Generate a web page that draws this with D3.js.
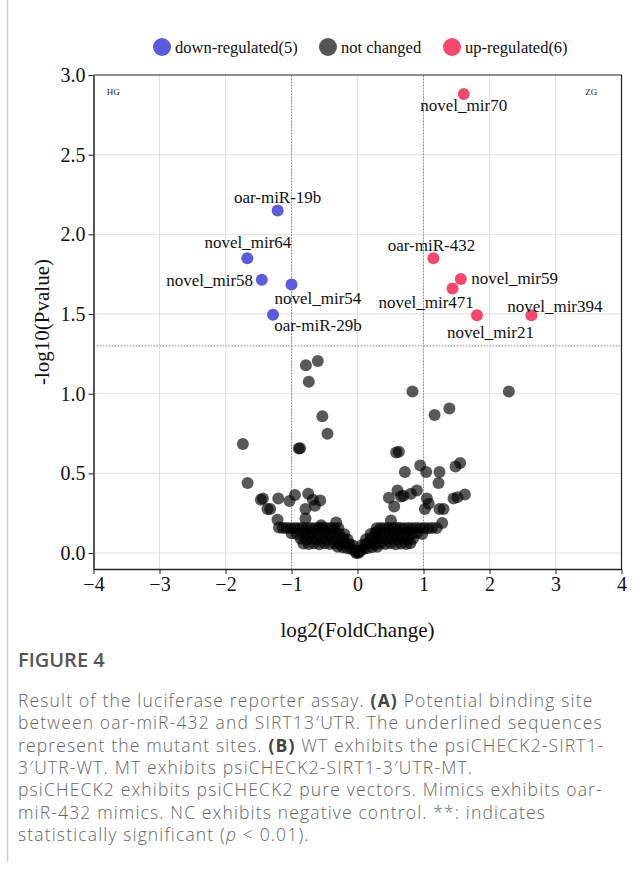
<!DOCTYPE html>
<meta charset="utf-8">
<style>
body { margin: 0; background: #fff; }
svg { display: block; }
.grid line { stroke: #e2e2e2; stroke-width: 1; }
.thresh { stroke: #8a8a8a; stroke-width: 1; stroke-dasharray: 1.5,1.5; fill: none; }
.axis text { font-family: "Liberation Serif", "Times New Roman", serif; font-size: 20px; fill: #111; }
.axis path, .axis line { stroke: #222; }
.ptlabel { font-family: "Liberation Serif", serif; font-size: 17px; fill: #111; }
.legend text { font-family: "Liberation Serif", serif; font-size: 16.5px; fill: #111; }
.caption { font-family: "Open Sans", "Noto Sans", sans-serif; font-size: 17.5px; font-weight: 300; letter-spacing: 1.15px; fill: #666; }
</style>
<body>
<svg width="642" height="875"></svg>
<script src="https://d3js.org/d3.v7.min.js"></script>
<script>

// significant miRNAs
var downNames = ["oar-miR-19b", "novel_mir64", "novel_mir58", "novel_mir54", "oar-miR-29b"];
var downFC    = [-1.21, -1.67, -1.45, -1.0, -1.28];
var downP     = [2.15, 1.85, 1.715, 1.685, 1.495];
var downLabelX = [-1.21, -1.66, -2.24, -0.6, -0.6];
var downLabelY = [2.235, 1.95, 1.715, 1.6, 1.43];

var upNames = ["novel_mir70", "oar-miR-432", "novel_mir59", "novel_mir471", "novel_mir21", "novel_mir394"];
var upFC    = [1.61, 1.15, 1.565, 1.44, 1.81, 2.635];
var upP     = [2.88, 1.85, 1.72, 1.66, 1.493, 1.493];
var upLabelX = [1.61, 1.12, 2.38, 1.04, 2.015, 2.99];
var upLabelY = [2.81, 1.93, 1.725, 1.578, 1.39, 1.551];

// not changed: [log2FC, -log10 p]
var notChanged = [
  [-1.737,0.684],[-0.782,1.179],[-0.601,1.206],[-0.738,1.075],[-0.533,0.859],[-0.455,0.748],
  [-0.89,0.656],[-0.87,0.658],[-1.666,0.439],
  [0.833,1.014],[2.293,1.014],[1.168,0.866],[1.392,0.907],
  [0.586,0.631],[0.627,0.636],[0.95,0.55],[0.718,0.508],[1.041,0.508],[1.242,0.508],[1.227,0.439],
  [1.485,0.543],[1.556,0.565],[0.606,0.393],[0.9,0.393],[0.476,0.347],[0.658,0.355],[0.697,0.36],
  [0.809,0.372],[0.556,0.292],[1.051,0.343],[1.021,0.276],[1.242,0.276],[1.303,0.276],[1.455,0.343],
  [1.515,0.351],[1.627,0.368],[1.283,0.188],[0.506,0.205],[1.08,0.31],
  [-1.464,0.334],[-1.434,0.342],[-1.2,0.342],[-1.03,0.326],[-0.948,0.364],[-0.747,0.372],
  [-0.565,0.33],[-0.645,0.297],[-0.676,0.334],[-1.364,0.276],[-1.323,0.276],[-0.788,0.276],
  [-1.212,0.209],[-0.788,0.217],[-0.323,0.192],[-0.55,0.175],[0.29,0.134],
  [-1.19,0.160],[-1.13,0.157],[-1.07,0.158],[-1.01,0.155],[-0.95,0.158],[-0.89,0.156],[-0.83,0.159],
  [-0.77,0.156],[-0.71,0.158],[-0.65,0.155],[-0.59,0.157],[-0.53,0.159],[-0.47,0.156],[-0.41,0.158],
  [-0.35,0.155],[-0.29,0.157],
  [0.29,0.156],[0.35,0.158],[0.41,0.155],[0.47,0.158],[0.53,0.156],[0.59,0.159],[0.65,0.157],
  [0.71,0.155],[0.77,0.158],[0.83,0.156],[0.89,0.158],[0.95,0.156],[1.01,0.158],[1.07,0.155],
  [1.13,0.158],[1.2,0.157],
  [-1.0,0.125],[-0.92,0.12],[-0.84,0.128],[-0.76,0.118],[-0.68,0.126],[-0.6,0.12],[-0.52,0.127],
  [-0.44,0.119],[-0.36,0.125],[-0.28,0.121],[-0.2,0.118],
  [0.2,0.119],[0.27,0.126],[0.34,0.12],[0.42,0.127],[0.5,0.119],[0.58,0.125],[0.66,0.12],
  [0.74,0.127],[0.82,0.121],[0.9,0.126],[0.98,0.12],
  [-0.86,0.09],[-0.78,0.085],[-0.7,0.093],[-0.62,0.087],[-0.54,0.092],[-0.46,0.086],[-0.38,0.091],
  [-0.3,0.087],[-0.22,0.092],[-0.15,0.085],
  [0.13,0.086],[0.2,0.092],[0.28,0.087],[0.36,0.093],[0.44,0.086],[0.52,0.091],[0.6,0.087],
  [0.68,0.092],[0.76,0.086],[0.84,0.09],
  [-0.82,0.06],[-0.74,0.057],[-0.66,0.062],[-0.58,0.056],[-0.5,0.061],[-0.42,0.057],[-0.34,0.06],
  [-0.26,0.055],[-0.19,0.06],[-0.12,0.055],[-0.07,0.048],
  [0.07,0.05],[0.12,0.056],[0.19,0.061],[0.26,0.056],[0.34,0.06],[0.42,0.057],[0.5,0.061],
  [0.58,0.056],[0.66,0.06],[0.74,0.057],[0.8,0.062],
  [-0.3,0.04],[-0.22,0.035],[-0.15,0.03],[-0.09,0.025],[-0.04,0.015],[0.0,0.004],[0.04,0.014],
  [0.09,0.026],[0.15,0.032],[0.22,0.036],[0.3,0.04],[-0.02,0.0],[0.02,0.002]
];

var legendLabels = ["down-regulated(5)", "not changed", "up-regulated(6)"];
var legendColors = ["#5b5be0", "#555555", "#f5486d"];

var groupNames = ["HG", "ZG"];
var groupX = [-3.8, 3.45];
var groupY = [2.875, 2.875];

var xTicks = [-4, -3, -2, -1, 0, 1, 2, 3, 4];
var yTicks = [0, 0.5, 1.0, 1.5, 2.0, 2.5, 3.0];
var fcCut = [-1, 1];
var pCut = 1.3;

var captionTitle = "FIGURE 4";
var captionLines = [
  "Result of the luciferase reporter assay. <b>(A)</b> Potential binding site",
  "between oar-miR-432 and SIRT13\u2032UTR. The underlined sequences",
  "represent the mutant sites. <b>(B)</b> WT exhibits the psiCHECK2-SIRT1-",
  "3\u2032UTR-WT. MT exhibits psiCHECK2-SIRT1-3\u2032UTR-MT.",
  "psiCHECK2 exhibits psiCHECK2 pure vectors. Mimics exhibits oar-",
  "miR-432 mimics. NC exhibits negative control. **: indicates",
  "statistically significant (<i>p</i> &lt; 0.01)."
];

var svg = d3.select("svg");

var x = d3.scaleLinear().domain([-4, 4]).range([93.5, 621.5]);
var y = d3.scaleLinear().domain([-0.1, 3.0]).range([569, 75]);

// page border on the left
svg.append("line")
    .attr("x1", 7.5).attr("x2", 7.5)
    .attr("y1", 0).attr("y2", 862)
    .attr("stroke", "#cfcfcf").attr("stroke-width", 1.5);

// grid
var grid = svg.append("g").attr("class", "grid");
grid.selectAll(".gx")
    .data(xTicks.slice(1, -1))
    .enter().append("line")
    .attr("x1", function(d) { return x(d); }).attr("x2", function(d) { return x(d); })
    .attr("y1", y.range()[0]).attr("y2", y.range()[1]);
grid.selectAll(".gy")
    .data(yTicks.slice(0, -1))
    .enter().append("line")
    .attr("x1", x.range()[0]).attr("x2", x.range()[1])
    .attr("y1", function(d) { return y(d); }).attr("y2", function(d) { return y(d); });

// threshold lines
svg.selectAll(".vcut")
    .data(fcCut)
    .enter().append("line")
    .attr("class", "thresh")
    .attr("x1", function(d) { return x(d); }).attr("x2", function(d) { return x(d); })
    .attr("y1", y.range()[0]).attr("y2", y.range()[1]);
svg.append("line")
    .attr("class", "thresh")
    .attr("x1", x.range()[0]).attr("x2", x.range()[1])
    .attr("y1", y(pCut)).attr("y2", y(pCut));

// points
svg.append("g").selectAll("circle")
    .data(notChanged)
    .enter().append("circle")
    .attr("cx", function(d) { return x(d[0]); })
    .attr("cy", function(d) { return y(d[1]); })
    .attr("r", 6)
    .attr("fill", "#000")
    .attr("fill-opacity", 0.65);

svg.append("g").selectAll("circle")
    .data(downNames)
    .enter().append("circle")
    .attr("cx", function(d, i) { return x(downFC[i]); })
    .attr("cy", function(d, i) { return y(downP[i]); })
    .attr("r", 6)
    .attr("fill", legendColors[0]);

svg.append("g").selectAll("circle")
    .data(upNames)
    .enter().append("circle")
    .attr("cx", function(d, i) { return x(upFC[i]); })
    .attr("cy", function(d, i) { return y(upP[i]); })
    .attr("r", 6)
    .attr("fill", legendColors[2]);

// point labels
svg.append("g").selectAll("text")
    .data(downNames)
    .enter().append("text")
    .attr("class", "ptlabel")
    .attr("x", function(d, i) { return x(downLabelX[i]); })
    .attr("y", function(d, i) { return y(downLabelY[i]); })
    .attr("dy", "0.35em")
    .attr("text-anchor", "middle")
    .text(function(d) { return d; });

svg.append("g").selectAll("text")
    .data(upNames)
    .enter().append("text")
    .attr("class", "ptlabel")
    .attr("x", function(d, i) { return x(upLabelX[i]); })
    .attr("y", function(d, i) { return y(upLabelY[i]); })
    .attr("dy", "0.35em")
    .attr("text-anchor", "middle")
    .text(function(d) { return d; });

// HG / ZG
svg.append("g").selectAll("text")
    .data(groupNames)
    .enter().append("text")
    .attr("x", function(d, i) { return x(groupX[i]); })
    .attr("y", function(d, i) { return y(groupY[i]); })
    .attr("font-family", "Liberation Serif, serif")
    .attr("font-size", 9)
    .attr("fill", "#222")
    .text(function(d) { return d; });

// frame (top and right)
svg.append("path")
    .attr("d", "M" + x.range()[0] + "," + y.range()[1] + "H" + x.range()[1] + "V" + y.range()[0])
    .attr("fill", "none")
    .attr("stroke", "#222")
    .attr("stroke-width", 1.2);

// axes
svg.append("g")
    .attr("class", "axis")
    .attr("transform", "translate(0," + y.range()[0] + ")")
    .call(d3.axisBottom(x).tickValues(xTicks).tickSize(5).tickPadding(3).tickSizeOuter(0));

svg.append("g")
    .attr("class", "axis")
    .attr("transform", "translate(" + x.range()[0] + ",0)")
    .call(d3.axisLeft(y).tickValues(yTicks).tickFormat(d3.format(".1f")).tickSize(5).tickPadding(3).tickSizeOuter(0));

svg.selectAll(".axis .domain").attr("stroke-width", 1.5);

// axis titles
svg.append("text")
    .attr("x", (x.range()[0] + x.range()[1]) / 2)
    .attr("y", 637)
    .attr("text-anchor", "middle")
    .attr("font-family", "Liberation Serif, serif")
    .attr("font-size", 21)
    .attr("fill", "#111")
    .text("log2(FoldChange)");

svg.append("text")
    .attr("transform", "translate(49," + ((y.range()[0] + y.range()[1]) / 2) + ") rotate(-90)")
    .attr("text-anchor", "middle")
    .attr("font-family", "Liberation Serif, serif")
    .attr("font-size", 21)
    .attr("fill", "#111")
    .text("-log10(Pvalue)");

// legend
var legendX = [162, 328, 452];
var legend = svg.append("g").attr("class", "legend");
legend.selectAll("circle")
    .data(legendLabels)
    .enter().append("circle")
    .attr("cx", function(d, i) { return legendX[i]; })
    .attr("cy", 47)
    .attr("r", 9)
    .attr("fill", function(d, i) { return legendColors[i]; });
legend.selectAll("text")
    .data(legendLabels)
    .enter().append("text")
    .attr("x", function(d, i) { return legendX[i] + 13; })
    .attr("y", 53)
    .text(function(d) { return d; });

// caption
svg.append("text")
    .attr("x", 18)
    .attr("y", 667)
    .attr("font-family", "Open Sans, Noto Sans, sans-serif")
    .attr("font-size", 20)
    .attr("font-weight", 600)
    .attr("fill", "#555")
    .text(captionTitle);

var cap = svg.append("g").attr("class", "caption");
captionLines.forEach(function(line, i) {
    var t = cap.append("text").attr("x", 18).attr("y", 707 + i * 22.3);
    line.split(/(<b>.*?<\/b>|<i>.*?<\/i>)/).forEach(function(seg) {
        if (!seg) return;
        var ts = t.append("tspan");
        if (seg.indexOf("<b>") === 0) {
            ts.attr("font-weight", 700).attr("fill", "#444").text(seg.slice(3, -4));
        } else if (seg.indexOf("<i>") === 0) {
            ts.attr("font-style", "italic").text(seg.slice(3, -4));
        } else {
            ts.text(seg.replace("&lt;", "<"));
        }
    });
});

</script>
</body>
